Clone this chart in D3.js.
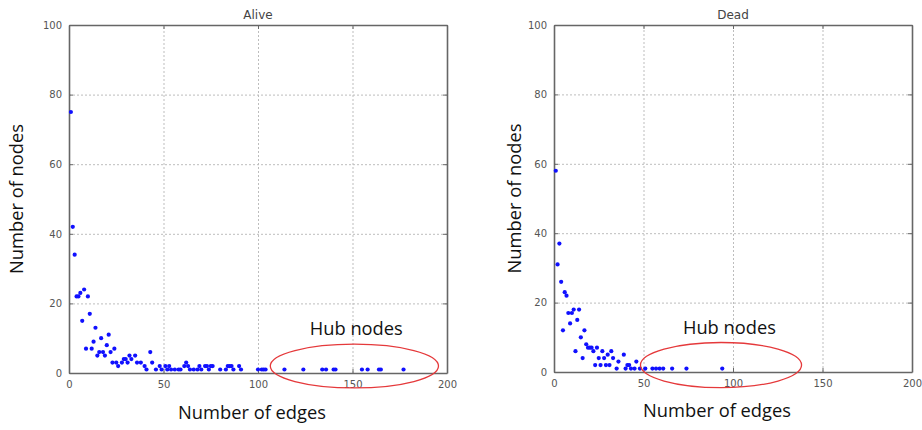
<!DOCTYPE html>
<html>
<head>
<meta charset="utf-8">
<script src="https://cdn.jsdelivr.net/npm/d3@7.9.0/dist/d3.min.js"></script>
<style>
  body { margin: 0; background: #fff; }
  svg { display: block; }
  .tick text { font-family: "DejaVu Sans", sans-serif; font-size: 10px; fill: #555; }
  .grid line { stroke: #bdbdbd; stroke-dasharray: 2,2; }
  .grid .domain { display: none; }
  .label { font-family: "Open Sans", sans-serif; font-size: 18.3px; fill: #111; }
  .title { font-family: "DejaVu Sans", sans-serif; font-size: 12px; fill: #444; }
</style>
</head>
<body>
<div id="chart"></div>
<script>
// degree distribution, alive network
const aliveEdges = [1, 2, 3, 4, 5, 6, 7, 8, 9, 10, 11, 12, 13, 14, 15, 16, 17, 18, 19, 20,
  21, 22, 23, 24, 25, 26, 28, 29, 30, 31, 32, 33, 35, 36, 38, 40, 41, 43, 44, 46,
  48, 49, 51, 52, 53, 54, 56, 58, 59, 61, 62, 63, 64, 66, 68, 69, 70, 72, 73, 74,
  75, 76, 80, 83, 84, 85, 86, 87, 90, 91, 100, 102, 103, 104, 114, 124, 134, 136, 140, 141,
  155, 158, 164, 165, 177];
const aliveNodes = [75, 42, 34, 22, 22, 23, 15, 24, 7, 22, 17, 7, 9, 13, 5, 6, 10, 6, 5, 8,
  11, 6, 3, 7, 3, 2, 3, 4, 4, 3, 5, 4, 5, 3, 3, 2, 1, 6, 3, 1,
  2, 1, 2, 1, 2, 1, 1, 1, 1, 2, 3, 2, 1, 1, 1, 2, 1, 2, 2, 1,
  2, 2, 1, 1, 2, 2, 2, 1, 2, 1, 1, 1, 1, 1, 1, 1, 1, 1, 1, 1,
  1, 1, 1, 1, 1];

// degree distribution, dead network
const deadEdges = [1, 2, 3, 4, 5, 6, 7, 8, 9, 10, 11, 12, 13, 14, 15, 16, 17, 18, 19, 20,
  21, 22, 23, 24, 25, 26, 27, 28, 29, 30, 31, 32, 33, 35, 36, 39, 40, 41, 42, 43,
  45, 46, 48, 51, 55, 57, 59, 61, 66, 74, 94];
const deadNodes = [58, 31, 37, 26, 12, 23, 22, 17, 14, 17, 18, 6, 15, 18, 10, 4, 12, 8, 7, 7,
  7, 6, 2, 7, 4, 2, 6, 4, 2, 5, 2, 6, 4, 1, 3, 5, 1, 2, 2, 1,
  1, 3, 1, 1, 1, 1, 1, 1, 1, 1, 1];

const xTicks = [0, 50, 100, 150, 200];
const yTicks = [0, 20, 40, 60, 80, 100];
const titles = ['Alive', 'Dead'];
const xLabel = 'Number of edges';
const yLabel = 'Number of nodes';
const hubLabel = 'Hub nodes';

const width = 922;
const height = 430;

const panels = [
  { title: titles[0], edges: aliveEdges, nodes: aliveNodes,
    left: 69, right: 447, top: 25, bottom: 373,
    yLabelX: 17, xLabelX: 252, xLabelY: 413,
    hub: { x: 151, y: 2, rx: 44.5, ry: 6.3 }, hubText: { x: 152, y: 11 } },
  { title: titles[1], edges: deadEdges, nodes: deadNodes,
    left: 554, right: 912, top: 25, bottom: 372,
    yLabelX: 515, xLabelX: 717, xLabelY: 411,
    hub: { x: 93.3, y: 2, rx: 45, ry: 6.5 }, hubText: { x: 98, y: 11 } }
];

const svg = d3.select('#chart')
  .append('svg')
  .attr('width', width)
  .attr('height', height);

function drawPanel(p) {
  const x = d3.scaleLinear().domain([0, 200]).range([p.left, p.right]);
  const y = d3.scaleLinear().domain([0, 100]).range([p.bottom, p.top]);
  const w = p.right - p.left;
  const h = p.bottom - p.top;

  const g = svg.append('g');

  // dotted grid
  g.append('g')
    .attr('class', 'grid')
    .attr('transform', `translate(0,${p.bottom})`)
    .call(d3.axisBottom(x).tickValues(xTicks.slice(1, -1)).tickSize(-h).tickFormat(''));
  g.append('g')
    .attr('class', 'grid')
    .attr('transform', `translate(${p.left},0)`)
    .call(d3.axisLeft(y).tickValues(yTicks.slice(1, -1)).tickSize(-w).tickFormat(''));

  // axes with inward ticks
  const xAxis = g.append('g')
    .attr('transform', `translate(0,${p.bottom})`)
    .call(d3.axisBottom(x).tickValues(xTicks).tickSizeInner(-4).tickSizeOuter(0).tickPadding(8));
  const yAxis = g.append('g')
    .attr('transform', `translate(${p.left},0)`)
    .call(d3.axisLeft(y).tickValues(yTicks).tickSizeInner(-4).tickSizeOuter(0).tickPadding(7));
  const xTop = g.append('g')
    .attr('transform', `translate(0,${p.top})`)
    .call(d3.axisTop(x).tickValues(xTicks).tickSizeInner(-4).tickSizeOuter(0).tickFormat(''));
  const yRight = g.append('g')
    .attr('transform', `translate(${p.right},0)`)
    .call(d3.axisRight(y).tickValues(yTicks).tickSizeInner(-4).tickSizeOuter(0).tickFormat(''));

  [xAxis, yAxis, xTop, yRight].forEach((a) => {
    a.select('.domain').attr('stroke', '#666').attr('stroke-width', 1.6);
    a.selectAll('.tick line').attr('stroke', '#666');
  });

  // points
  const pts = p.edges.map((e, i) => ({ e, n: p.nodes[i] }));
  g.append('g')
    .selectAll('circle')
    .data(pts)
    .join('circle')
    .attr('cx', (d) => x(d.e))
    .attr('cy', (d) => y(d.n))
    .attr('r', 2.1)
    .attr('fill', '#1010ff');

  g.append('text')
    .attr('class', 'title')
    .attr('x', (p.left + p.right) / 2)
    .attr('y', p.top - 6)
    .attr('text-anchor', 'middle')
    .text(p.title);

  g.append('text')
    .attr('class', 'label')
    .attr('transform', `translate(${p.yLabelX},${(p.top + p.bottom) / 2}) rotate(-90)`)
    .attr('text-anchor', 'middle')
    .attr('dy', '0.35em')
    .text(yLabel);

  g.append('text')
    .attr('class', 'label')
    .attr('x', p.xLabelX)
    .attr('y', p.xLabelY)
    .attr('text-anchor', 'middle')
    .attr('dy', '0.35em')
    .text(xLabel);

  // hub annotation
  g.append('ellipse')
    .attr('cx', x(p.hub.x))
    .attr('cy', y(p.hub.y))
    .attr('rx', x(p.hub.rx) - x(0))
    .attr('ry', y(0) - y(p.hub.ry))
    .attr('fill', 'none')
    .attr('stroke', '#e5393b')
    .attr('stroke-width', 1.3);

  g.append('text')
    .attr('class', 'label')
    .attr('x', x(p.hubText.x))
    .attr('y', y(p.hubText.y))
    .attr('text-anchor', 'middle')
    .text(hubLabel);
}

panels.forEach(drawPanel);
</script>
</body>
</html>
